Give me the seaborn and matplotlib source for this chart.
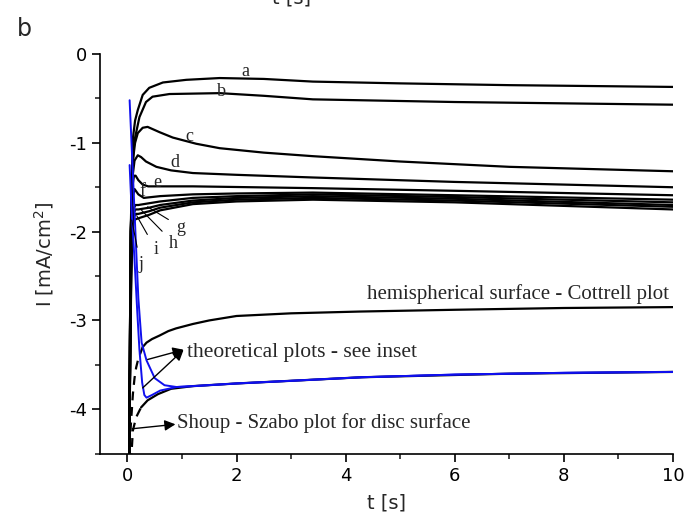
import numpy as np
import pandas as pd
import matplotlib
matplotlib.use("Agg")
import matplotlib.pyplot as plt
from matplotlib.ticker import MultipleLocator
import seaborn as sns

# ---------------- data ----------------
curve_labels = ["a", "b", "c", "d", "e", "f", "g", "h", "i", "j"]

t_a = [0.03, 0.06, 0.085, 0.10, 0.14, 0.19, 0.28, 0.40, 0.65, 1.08, 1.69, 2.5, 3.4, 5.0, 7.0, 10.0]
i_a = [-4.6, -2.0, -1.30, -0.95, -0.75, -0.63, -0.46, -0.38, -0.32, -0.29, -0.27, -0.28, -0.31, -0.33, -0.35, -0.37]

t_b = [0.03, 0.06, 0.09, 0.11, 0.13, 0.22, 0.34, 0.46, 0.77, 1.69, 2.5, 3.4, 6.0, 10.0]
i_b = [-4.6, -2.1, -1.35, -1.10, -0.97, -0.71, -0.54, -0.48, -0.45, -0.44, -0.47, -0.51, -0.54, -0.57]

t_c = [0.03, 0.06, 0.08, 0.10, 0.14, 0.19, 0.28, 0.37, 0.59, 0.83, 1.26, 1.69, 2.5, 3.4, 5.0, 7.0, 10.0]
i_c = [-4.6, -2.2, -1.5, -1.2, -1.0, -0.89, -0.83, -0.82, -0.88, -0.94, -1.01, -1.06, -1.11, -1.15, -1.21, -1.27, -1.32]

t_d = [0.03, 0.06, 0.09, 0.13, 0.19, 0.25, 0.34, 0.53, 0.80, 1.2, 2.0, 3.4, 6.0, 10.0]
i_d = [-4.6, -2.0, -1.4, -1.2, -1.14, -1.16, -1.21, -1.27, -1.31, -1.34, -1.36, -1.39, -1.44, -1.50]

t_e = [0.03, 0.06, 0.09, 0.12, 0.15, 0.20, 0.28, 0.38, 0.60, 1.2, 3.4, 6.0, 10.0]
i_e = [-4.6, -2.0, -1.5, -1.37, -1.37, -1.42, -1.47, -1.49, -1.49, -1.49, -1.51, -1.54, -1.59]

t_f = [0.03, 0.07, 0.10, 0.13, 0.20, 0.30, 0.60, 1.2, 2.0, 3.4, 6.0, 10.0]
i_f = [-4.6, -2.1, -1.60, -1.52, -1.58, -1.62, -1.60, -1.58, -1.57, -1.56, -1.59, -1.64]

t_g = [0.03, 0.07, 0.10, 0.15, 0.20, 0.40, 0.60, 1.2, 2.0, 3.4, 6.0, 10.0]
i_g = [-4.6, -2.2, -1.75, -1.70, -1.70, -1.68, -1.66, -1.62, -1.60, -1.58, -1.61, -1.67]

t_h = [0.03, 0.07, 0.10, 0.15, 0.20, 0.40, 0.60, 1.2, 2.0, 3.4, 6.0, 10.0]
i_h = [-4.6, -2.3, -1.80, -1.75, -1.75, -1.73, -1.70, -1.65, -1.62, -1.60, -1.63, -1.70]

t_i = [0.03, 0.07, 0.10, 0.15, 0.20, 0.40, 0.60, 1.2, 2.0, 3.4, 6.0, 10.0]
i_i = [-4.6, -2.4, -1.85, -1.80, -1.80, -1.77, -1.73, -1.67, -1.64, -1.62, -1.65, -1.72]

t_j = [0.03, 0.07, 0.10, 0.15, 0.20, 0.40, 0.60, 1.2, 2.0, 3.4, 6.0, 10.0]
i_j = [-4.6, -2.5, -1.90, -1.86, -1.85, -1.81, -1.76, -1.69, -1.66, -1.64, -1.67, -1.75]

# hemispherical surface - Cottrell plot (dashed at short times)
t_cottrell = [0.035, 0.06, 0.10, 0.13, 0.16, 0.20, 0.28, 0.35, 0.45, 0.59, 0.75, 0.89, 1.2, 1.5,
              2.0, 3.0, 4.26, 6.0, 8.0, 10.0]
i_cottrell = [-4.6, -4.2, -3.83, -3.65, -3.53, -3.43, -3.30, -3.25, -3.21, -3.17, -3.12, -3.09, -3.04, -3.00,
              -2.95, -2.92, -2.90, -2.88, -2.86, -2.85]
cottrell_dash_end = 0.28

# Shoup - Szabo plot for disc surface (dashed at short times)
t_shoup = [0.065, 0.10, 0.16, 0.25, 0.37, 0.56, 0.80, 1.2, 2.0, 3.0, 4.3, 7.0, 10.0]
i_shoup = [-4.6, -4.24, -4.09, -3.98, -3.90, -3.83, -3.77, -3.74, -3.71, -3.68, -3.64, -3.60, -3.58]
shoup_dash_end = 0.25

# theoretical plots (blue)
t_blue1 = [0.04, 0.08, 0.13, 0.18, 0.22, 0.27, 0.31, 0.35, 0.45, 0.60, 0.90, 1.2, 2.0, 3.0, 4.3, 6.0, 8.0, 10.0]
i_blue1 = [-1.25, -1.80, -2.32, -2.90, -3.33, -3.70, -3.84, -3.87, -3.84, -3.79, -3.75, -3.74, -3.71, -3.68, -3.64, -3.61, -3.59, -3.58]

t_blue2 = [0.04, 0.10, 0.16, 0.20, 0.26, 0.35, 0.50, 0.68, 0.90, 1.2, 2.0, 3.0, 4.3, 6.0, 8.0, 10.0]
i_blue2 = [-0.52, -1.35, -2.20, -2.75, -3.25, -3.45, -3.65, -3.73, -3.75, -3.74, -3.71, -3.68, -3.64, -3.61, -3.59, -3.58]

# ---------------- figure ----------------
sns.set_theme(style="ticks")
plt.rcParams["font.family"] = ["DejaVu Sans"]
plt.rcParams["axes.unicode_minus"] = False
SERIF = ["Liberation Serif", "DejaVu Serif"]

fig = plt.figure(figsize=(6.86, 5.25), dpi=100)
ax = fig.add_axes([0.146, 0.136, 0.835, 0.761])

exp_t = [t_a, t_b, t_c, t_d, t_e, t_f, t_g, t_h, t_i, t_j]
exp_i = [i_a, i_b, i_c, i_d, i_e, i_f, i_g, i_h, i_i, i_j]
exp_df = pd.concat(
    [pd.DataFrame({"t": tt, "I": ii, "curve": lab}) for tt, ii, lab in zip(exp_t, exp_i, curve_labels)],
    ignore_index=True,
)
for lab in curve_labels:
    sub = exp_df[exp_df["curve"] == lab]
    sns.lineplot(data=sub, x="t", y="I", ax=ax, color="black", lw=1.6,
                 estimator=None, sort=False, legend=False)

def split_plot(tt, ii, tcut):
    df = pd.DataFrame({"t": tt, "I": ii})
    dash = df[df["t"] <= tcut]
    solid = df[df["t"] >= tcut]
    sns.lineplot(data=dash, x="t", y="I", ax=ax, color="black", lw=1.6,
                 estimator=None, sort=False, legend=False, linestyle=(0, (4, 3)))
    sns.lineplot(data=solid, x="t", y="I", ax=ax, color="black", lw=1.6,
                 estimator=None, sort=False, legend=False)

split_plot(t_cottrell, i_cottrell, cottrell_dash_end)
split_plot(t_shoup, i_shoup, shoup_dash_end)

for tt, ii in [(t_blue1, i_blue1), (t_blue2, i_blue2)]:
    sns.lineplot(x=tt, y=ii, ax=ax, color="#1010ee", lw=1.4,
                 estimator=None, sort=False, legend=False)

# ---------------- axes ----------------
ax.set_xlim(-0.5, 10)
ax.set_ylim(-4.5, 0)
ax.set_xticks([0, 2, 4, 6, 8, 10])
ax.xaxis.set_minor_locator(MultipleLocator(1))
ax.set_yticks([0, -1, -2, -3, -4])
ax.yaxis.set_minor_locator(MultipleLocator(0.5))
ax.tick_params(which="major", direction="out", length=6, width=1.2, labelsize=13, colors="black")
ax.tick_params(which="minor", direction="out", length=3.5, width=1.2)
sns.despine(ax=ax)
for s in ["left", "bottom"]:
    ax.spines[s].set_linewidth(1.2)
    ax.spines[s].set_color("black")
ax.set_xlabel("t [s]", fontsize=14, labelpad=6)
ax.set_ylabel("I [mA/cm$^2$]", fontsize=14, labelpad=9)

# ---------------- curve letters ----------------
letter_pos = {
    "a": (2.16, -0.20), "b": (1.73, -0.42), "c": (1.14, -0.93),
    "d": (0.87, -1.22), "e": (0.54, -1.45), "f": (0.28, -1.55),
}
for k, (x, y) in letter_pos.items():
    ax.text(x, y, k, family=SERIF, fontsize=13, ha="center", va="center")

leader = {
    "g": ((0.98, -1.95), (0.37, -1.72)),
    "h": ((0.85, -2.13), (0.26, -1.76)),
    "i": ((0.52, -2.20), (0.17, -1.82)),
    "j": ((0.24, -2.37), (0.08, -1.87)),
}
for k, (txt, pt) in leader.items():
    ax.annotate(k, xy=pt, xytext=txt, family=SERIF, fontsize=13, ha="center", va="center",
                arrowprops=dict(arrowstyle="-", lw=0.8, color="black", shrinkA=4, shrinkB=0))

# ---------------- annotations ----------------
ax.text(9.93, -2.70, "hemispherical surface - Cottrell plot", family=SERIF,
        fontsize=15, ha="right", va="center")
ax.text(1.10, -3.36, "theoretical plots - see inset", family=SERIF,
        fontsize=15.5, ha="left", va="center")
ax.text(0.90, -4.16, "Shoup - Szabo plot for disc surface", family=SERIF,
        fontsize=15, ha="left", va="center")

arrow_kw = dict(arrowstyle="-|>", lw=1.0, color="black", mutation_scale=16, shrinkA=0, shrinkB=0)
ax.annotate("", xy=(1.03, -3.33), xytext=(0.37, -3.44), arrowprops=arrow_kw)
ax.annotate("", xy=(1.03, -3.33), xytext=(0.28, -3.76), arrowprops=arrow_kw)
ax.annotate("", xy=(0.88, -4.17), xytext=(0.09, -4.22), arrowprops=arrow_kw)

# panel letter and clipped label from the panel above
fig.text(0.024, 0.945, "b", fontsize=17, ha="left", va="center")
fig.text(292 / 686, 1.004, "t [s]", fontsize=14, ha="center", va="center")

fig.savefig("out.png", dpi=100)
